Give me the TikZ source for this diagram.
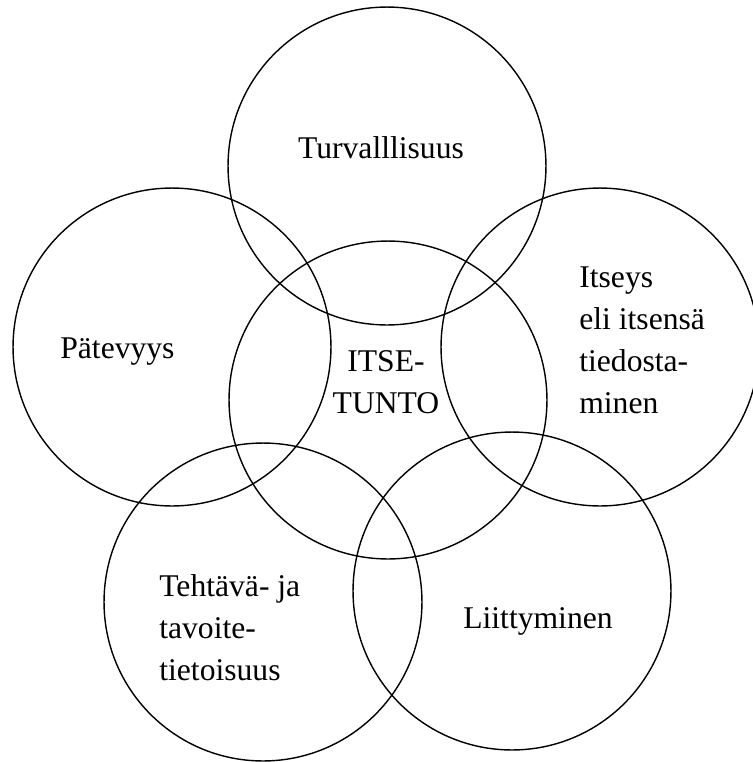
\documentclass[tikz,border=0pt]{standalone}
\usepackage{fontspec}
\setmainfont{Liberation Serif}
\newfontfamily\timesfont{Liberation Serif}
\usepackage{tikz}
\usetikzlibrary{positioning}

\begin{document}
\begin{tikzpicture}[
    x=0.02cm, y=-0.02cm,
    ring/.style={draw, circle, minimum size=6.36cm, inner sep=0pt, line width=0.8pt},
    lbl/.style={font=\timesfont\fontsize{18}{23.8}\selectfont, inner sep=0pt},
]
    \useasboundingbox (0,0) rectangle (753,762);

    \node[ring] (itse) at (388,400) {};
    \node[ring] (turva) at (387,166) {};
    \node[ring] (pate) at (172,347) {};
    \node[ring] (itseys) at (600,347) {};
    \node[ring] (tehta) at (263,602) {};
    \node[ring] (liitty) at (512,591) {};

    \node[lbl, anchor=base] (tturva) at (381,158) {Turvalllisuus};
    \node[lbl, anchor=base west] (tpate) at (60,358) {Pätevyys};
    \node[lbl, align=center, anchor=base] (titse) at (386,413) {ITSE-\\TUNTO};
    \node[lbl, align=left, anchor=base west] (titseys) at (579,413) {Itseys\\eli itsensä\\tiedosta-\\minen};
    \node[lbl, align=left, anchor=base west] (ttehta) at (159,680) {Tehtävä- ja\\tavoite-\\tietoisuus};
    \node[lbl, anchor=base] (tliitty) at (538,628) {Liittyminen};
\end{tikzpicture}
\end{document}
